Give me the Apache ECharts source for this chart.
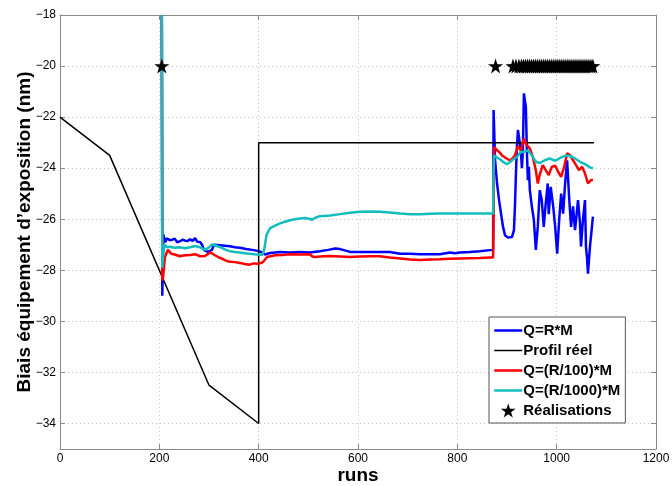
<!DOCTYPE html>
<html>
<head>
<meta charset="utf-8">
<script src="https://cdn.jsdelivr.net/npm/echarts@6/dist/echarts.min.js"></script>
<style>
html,body{margin:0;padding:0;background:#fff;}
#chart{width:672px;height:486px;}
</style>
</head>
<body>
<div id="chart"></div>
<script>
// ---- data ----
const xTicks = [0, 200, 400, 600, 800, 1000, 1200];
const yTicks = [-34, -32, -30, -28, -26, -24, -22, -20, -18];

const seriesNames = ['Q=R*M', 'Profil réel', 'Q=(R/100)*M', 'Q=(R/1000)*M', 'Réalisations'];

const profRuns = [0, 100, 300, 400, 400, 1075];
const profVals = [-22, -23.5, -32.5, -34, -23, -23];

const blueRuns = [205, 206, 208, 212, 215, 221, 226, 231, 236, 242, 247, 252, 257, 262, 267, 272, 276, 282, 286, 290, 298, 306, 310, 312, 322, 332, 342, 352, 362, 370, 378, 387, 398, 407, 413, 423, 443, 463, 483, 503, 523, 540, 554, 564, 584, 604, 624, 644, 664, 685, 705, 725, 745, 765, 785, 795, 805, 825, 845, 866, 872,
  873, 876, 880, 884, 888, 892, 896, 902, 910, 914, 916, 918, 920, 922, 926, 928, 930, 932, 934, 936, 938, 940, 942, 944, 946, 950, 954, 958, 962, 966, 970, 974, 978, 982, 984, 988, 993, 997, 1001, 1005, 1009, 1013, 1017, 1021, 1025, 1029, 1033, 1037, 1041, 1043, 1047, 1049, 1053, 1057, 1059, 1061, 1063, 1067, 1071, 1073];
const blueVals = [-18, -29.0, -26.6, -26.9, -26.75, -26.82, -26.8, -26.76, -26.9, -26.86, -26.8, -26.84, -26.85, -26.78, -26.85, -26.74, -26.88, -26.89, -27.0, -27.21, -27.28, -27.2, -27.0, -26.99, -27.02, -27.04, -27.06, -27.1, -27.12, -27.15, -27.18, -27.2, -27.24, -27.3, -27.38, -27.32, -27.28, -27.3, -27.28, -27.3, -27.25, -27.2, -27.15, -27.17, -27.28, -27.28, -27.28, -27.28, -27.28, -27.35, -27.35, -27.37, -27.37, -27.37, -27.3, -27.33, -27.3, -27.28, -27.25, -27.21, -27.2,
  -21.72, -23.69, -24.6, -25.25, -25.78, -26.3, -26.63, -26.72, -26.7, -26.43, -25.5, -24.2, -23.16, -22.5, -22.57, -23.3, -24.0, -23.3, -21.07, -21.0, -21.6, -23.3, -24.47, -23.95, -24.86, -25.5, -26.0, -27.2, -26.3, -24.86, -25.25, -26.3, -25.38, -24.6, -25.8, -24.73, -25.5, -26.3, -27.35, -26.04, -25.0, -25.78, -24.6, -23.69, -25.12, -26.3, -25.5, -26.43, -25.65, -25.25, -26.17, -27.07, -26.0, -25.25, -27.07, -27.48, -28.13, -27.08, -26.3, -25.9];

const redRuns = [205, 206, 208, 211, 217, 224, 231, 241, 252, 262, 272, 282, 292, 302, 307, 312, 320, 326, 334, 342, 352, 362, 372, 382, 390, 398, 407, 412, 417, 433, 448, 463, 483, 503, 508, 513, 530, 544, 564, 584, 604, 624, 644, 664, 685, 705, 725, 745, 765, 785, 805, 825, 845, 866, 872,
  873, 874, 880, 886, 890, 896, 900, 906, 911, 916, 922, 928, 934, 940, 946, 952, 958, 962, 966, 972, 978, 984, 990, 997, 1003, 1009, 1015, 1021, 1027, 1033, 1039, 1045, 1051, 1057, 1063, 1069, 1073];
const redVals = [-18, -28.4, -28.2, -27.5, -27.2, -27.35, -27.38, -27.45, -27.41, -27.4, -27.37, -27.45, -27.44, -27.3, -27.35, -27.41, -27.5, -27.54, -27.62, -27.67, -27.68, -27.71, -27.75, -27.78, -27.73, -27.74, -27.7, -27.6, -27.48, -27.41, -27.4, -27.37, -27.38, -27.37, -27.46, -27.48, -27.45, -27.44, -27.46, -27.48, -27.46, -27.45, -27.45, -27.5, -27.54, -27.58, -27.6, -27.58, -27.57, -27.55, -27.54, -27.53, -27.52, -27.5, -27.5,
  -25.8, -23.16, -23.3, -23.4, -23.5, -23.58, -23.62, -23.7, -23.62, -23.5, -23.14, -23.3, -22.84, -23.1, -23.23, -23.56, -24.08, -24.6, -24.25, -23.88, -24.08, -24.27, -23.95, -23.9, -24.14, -24.34, -23.95, -23.42, -23.49, -23.69, -23.88, -24.08, -23.95, -24.2, -24.6, -24.47, -24.45];

const cyanRuns = [205, 206, 208, 211, 216, 221, 231, 241, 252, 262, 272, 282, 292, 300, 306, 316, 326, 334, 342, 352, 362, 372, 382, 392, 398, 407, 411, 416, 423, 433, 443, 453, 463, 473, 483, 493, 503, 508, 513, 523, 544, 564, 584, 604, 624, 644, 664, 685, 705, 725, 745, 765, 785, 805, 825, 845, 866, 872,
  873, 874, 880, 886, 892, 900, 905, 910, 915, 920, 928, 934, 942, 950, 958, 966, 976, 986, 997, 1007, 1019, 1027, 1037, 1047, 1057, 1067, 1073];
const cyanVals = [-18, -27.9, -27.3, -27.0, -27.1, -27.08, -27.12, -27.1, -27.14, -27.1, -27.05, -27.1, -27.2, -27.1, -26.99, -27.05, -27.12, -27.2, -27.25, -27.28, -27.3, -27.33, -27.35, -27.37, -27.38, -27.4, -27.2, -26.6, -26.35, -26.25, -26.16, -26.1, -26.04, -26.0, -25.97, -25.95, -25.99, -26.02, -25.95, -25.88, -25.85, -25.8, -25.75, -25.71, -25.7, -25.71, -25.74, -25.78, -25.8, -25.8, -25.79, -25.78, -25.78, -25.78, -25.78, -25.78, -25.78, -25.78,
  -24.1, -23.5, -23.58, -23.65, -23.75, -23.84, -23.78, -23.69, -23.62, -23.56, -23.36, -23.37, -23.3, -23.5, -23.75, -23.8, -23.69, -23.62, -23.71, -23.6, -23.5, -23.52, -23.62, -23.75, -23.84, -23.97, -24.0];

const realRuns = [205, 877, 912, 918, 924, 929, 933, 937, 941, 945, 949, 953, 957, 961, 965, 969, 973, 977, 981, 985, 989, 993, 997, 1001, 1005, 1009, 1013, 1017, 1021, 1025, 1029, 1033, 1037, 1041, 1045, 1049, 1053, 1057, 1061, 1065, 1069, 1073];
const realVals = realRuns.map(() => -20);

// ---- build chart ----
const zip = (xs, ys) => xs.map((x, i) => [x, ys[i]]);
const STAR = 'path://M50,0 L61.23,34.55 L97.55,34.55 L68.16,55.9 L79.39,90.45 L50,69.1 L20.61,90.45 L31.84,55.9 L2.45,34.55 L38.77,34.55 Z';
const FONT = 'Liberation Sans, Arial, Helvetica, sans-serif';
const AX = '#8a8a8a';
const COLORS = ['#0000ff', '#000000', '#ff0000', '#13bdbd', '#000000'];
const grid = { left: 60, right: 16, top: 15, bottom: 37, containLabel: false, outerBoundsMode: 'none' };
const fmt = v => (v < 0 ? '\u2212' + Math.abs(v) : String(v));
const hidden = { color: 'rgba(0,0,0,0)', borderColor: 'rgba(0,0,0,0)', borderWidth: 0, opacity: 0 };

const chart = echarts.init(document.getElementById('chart'), null, { renderer: 'canvas' });
chart.setOption({
  animation: false,
  backgroundColor: '#fff',
  grid: grid,
  xAxis: [{
    type: 'value', min: 0, max: 1200, interval: 200, position: 'bottom',
    name: 'runs', nameLocation: 'middle', nameGap: 17, nameMoveOverlap: false,
    nameTextStyle: { fontFamily: FONT, fontWeight: 'bold', fontSize: 19, color: '#000' },
    axisLine: { show: true, onZero: false, lineStyle: { color: AX, width: 1 } },
    axisTick: { show: true, inside: true, length: 5, lineStyle: { color: AX } },
    axisLabel: { fontFamily: FONT, fontSize: 12, color: '#000', margin: 4, formatter: fmt },
    splitLine: { show: true, lineStyle: { color: '#c8c8c8', width: 1, type: [1, 3] } }
  }, {
    type: 'value', min: 0, max: 1200, interval: 200, position: 'top',
    axisLine: { show: true, onZero: false, lineStyle: { color: AX, width: 1 } },
    axisTick: { show: true, inside: true, length: 5, lineStyle: { color: AX } },
    axisLabel: { show: false }, splitLine: { show: false }
  }],
  yAxis: [{
    type: 'value', min: -35, max: -18, position: 'left',
    name: 'Biais équipement d\u2019exposition (nm)', nameLocation: 'middle', nameGap: 26, nameMoveOverlap: false,
    nameTextStyle: { fontFamily: FONT, fontWeight: 'bold', fontSize: 19, color: '#000' },
    axisLine: { show: true, onZero: false, lineStyle: { color: AX, width: 1 } },
    axisTick: { show: true, inside: true, length: 5, lineStyle: { color: AX }, customValues: yTicks },
    axisLabel: { fontFamily: FONT, fontSize: 12, color: '#000', margin: 4, formatter: fmt, customValues: yTicks },
    splitLine: { show: true, lineStyle: { color: '#c8c8c8', width: 1, type: [1, 3] } }
  }, {
    type: 'value', min: -35, max: -18, position: 'right',
    axisLine: { show: true, onZero: false, lineStyle: { color: AX, width: 1 } },
    axisTick: { show: true, inside: true, length: 5, lineStyle: { color: AX }, customValues: yTicks },
    axisLabel: { show: false, customValues: yTicks }, splitLine: { show: false }
  }],
  legend: {
    orient: 'vertical', left: 489, top: 317,
    backgroundColor: '#fff', borderColor: '#555', borderWidth: 1,
    padding: [6, 5, 5, 4], itemWidth: 28, itemHeight: 14, itemGap: 5,
    selectedMode: false,
    textStyle: { fontFamily: FONT, fontWeight: 'bold', fontSize: 15, lineHeight: 14, color: '#000', padding: [0, 0, 0, -4] },
    data: [
      { name: seriesNames[0], itemStyle: hidden, lineStyle: { color: COLORS[0], width: 2.5, opacity: 1 } },
      { name: seriesNames[1], itemStyle: hidden, lineStyle: { color: COLORS[1], width: 1.5, opacity: 1 } },
      { name: seriesNames[2], itemStyle: hidden, lineStyle: { color: COLORS[2], width: 2.5, opacity: 1 } },
      { name: seriesNames[3], itemStyle: hidden, lineStyle: { color: COLORS[3], width: 2.5, opacity: 1 } },
      { name: seriesNames[4], icon: STAR, itemStyle: { color: '#000', opacity: 1 } }
    ]
  },
  series: [
    { name: seriesNames[0], type: 'line', data: zip(blueRuns, blueVals), showSymbol: false, symbol: 'none',
      lineStyle: { color: COLORS[0], width: 2.5 }, itemStyle: { color: COLORS[0] } },
    { name: seriesNames[1], type: 'line', data: zip(profRuns, profVals), showSymbol: false, symbol: 'none',
      lineStyle: { color: COLORS[1], width: 1.5 }, itemStyle: { color: COLORS[1] } },
    { name: seriesNames[2], type: 'line', data: zip(redRuns, redVals), showSymbol: false, symbol: 'none',
      lineStyle: { color: COLORS[2], width: 2.5 }, itemStyle: { color: COLORS[2] } },
    { name: seriesNames[3], type: 'line', data: zip(cyanRuns, cyanVals), showSymbol: false, symbol: 'none',
      lineStyle: { color: COLORS[3], width: 2.5 }, itemStyle: { color: COLORS[3] } },
    { name: seriesNames[4], type: 'scatter', data: zip(realRuns, realVals), symbol: STAR, symbolSize: 15,
      itemStyle: { color: '#000', opacity: 1 }, z: 5 }
  ]
});
</script>
</body>
</html>
